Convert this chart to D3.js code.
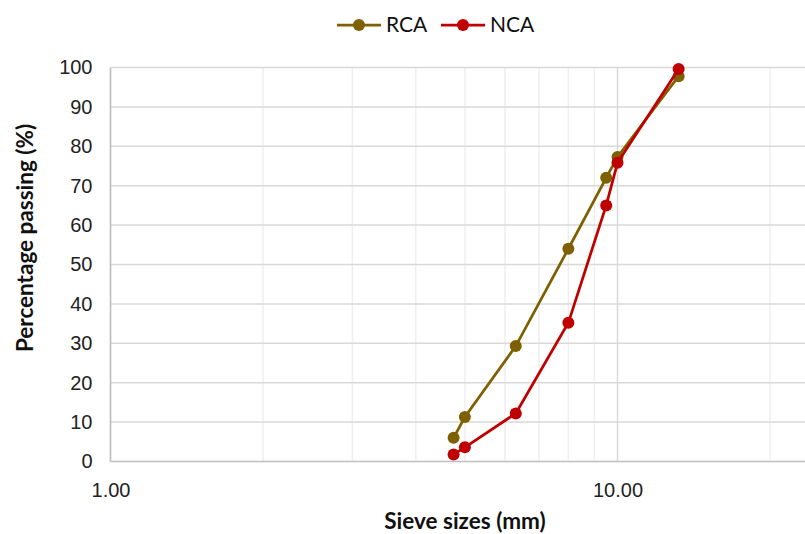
<!DOCTYPE html>
<html>
<head>
<meta charset="utf-8">
<script src="https://cdn.jsdelivr.net/npm/d3@7"></script>
<style>
  body { margin: 0; background: #fff; }
  svg { display: block; font-family: Lato, "Open Sans", sans-serif; }
  .tick text { font-size: 20px; fill: #222; }
</style>
</head>
<body>
<div id="wrapper"></div>
<script>
const sieveSizes = [4.75, 5, 6.3, 8, 9.5, 10, 13.2]
const rcaPassing = [6, 11.3, 29.3, 54, 72, 77.3, 97.8]
const ncaPassing = [1.8, 3.6, 12.2, 35.2, 65, 75.8, 99.6]
const seriesNames = ["RCA", "NCA"]
const seriesColors = ["#7F6000", "#C00000"]
const xTicks = [1, 10]
const yTicks = [0, 10, 20, 30, 40, 50, 60, 70, 80, 90, 100]

const series = [
  { name: seriesNames[0], color: seriesColors[0], values: rcaPassing },
  { name: seriesNames[1], color: seriesColors[1], values: ncaPassing }
]

let dimensions = {
  width: 805,
  height: 534,
  margin: { top: 67.5, left: 110.5, bottom: 72.5 }
}
const decade = 507

const svg = d3.select("#wrapper")
  .append("svg")
    .attr("width", dimensions.width)
    .attr("height", dimensions.height)

const xScale = d3.scaleLog()
  .domain([1, 100])
  .range([dimensions.margin.left, dimensions.margin.left + 2 * decade])

const yScale = d3.scaleLinear()
  .domain([0, 100])
  .range([dimensions.height - dimensions.margin.bottom, dimensions.margin.top])

const grid = svg.append("g")

// minor vertical gridlines (2..9, 20..90)
const minor = []
for (let d = 1; d < 100; d *= 10) {
  for (let k = 2; k <= 9; k++) minor.push(k * d)
}
grid.selectAll(".minor")
  .data(minor)
  .enter().append("line")
    .attr("x1", d => xScale(d)).attr("x2", d => xScale(d))
    .attr("y1", yScale(0)).attr("y2", yScale(100))
    .attr("stroke", "#efefef")
    .attr("stroke-width", 1.5)

grid.selectAll(".major")
  .data(xTicks)
  .enter().append("line")
    .attr("x1", d => xScale(d)).attr("x2", d => xScale(d))
    .attr("y1", yScale(0)).attr("y2", yScale(100))
    .attr("stroke", "#d9d9d9")
    .attr("stroke-width", 1.5)

grid.selectAll(".hgrid")
  .data(yTicks.slice(1))
  .enter().append("line")
    .attr("x1", xScale(1)).attr("x2", dimensions.width)
    .attr("y1", d => yScale(d)).attr("y2", d => yScale(d))
    .attr("stroke", "#d9d9d9")
    .attr("stroke-width", 1.5)

// axes
const xAxis = d3.axisBottom(xScale)
  .tickValues(xTicks)
  .tickFormat(d3.format(".2f"))
  .tickSize(0)
  .tickPadding(21)

svg.append("g")
  .attr("transform", `translate(0, ${yScale(0)})`)
  .call(xAxis)
  .call(g => g.select(".domain").remove())

svg.append("line")
  .attr("x1", xScale(1)).attr("x2", dimensions.width)
  .attr("y1", yScale(0)).attr("y2", yScale(0))
  .attr("stroke", "#bfbfbf").attr("stroke-width", 1.5)

const yAxis = d3.axisLeft(yScale)
  .tickValues(yTicks)
  .tickSize(0)
  .tickPadding(18)

svg.append("g")
  .attr("transform", `translate(${xScale(1)}, 0)`)
  .call(yAxis)
  .call(g => g.select(".domain").remove())

svg.append("line")
  .attr("x1", xScale(1)).attr("x2", xScale(1))
  .attr("y1", yScale(0)).attr("y2", yScale(100))
  .attr("stroke", "#bfbfbf").attr("stroke-width", 1.5)

// axis titles
svg.append("text")
  .attr("x", 465)
  .attr("y", 529)
  .attr("text-anchor", "middle")
  .attr("font-size", 22.5)
  .attr("font-weight", "bold")
  .attr("fill", "#111")
  .text("Sieve sizes (mm)")

svg.append("text")
  .attr("transform", `translate(33, 238) rotate(-90)`)
  .attr("text-anchor", "middle")
  .attr("font-size", 22.5)
  .attr("font-weight", "bold")
  .attr("fill", "#111")
  .text("Percentage passing (%)")

// lines and markers
const line = d3.line()
  .x((d, i) => xScale(sieveSizes[i]))
  .y(d => yScale(d))

const plot = svg.append("g")

series.forEach(s => {
  plot.append("path")
    .datum(s.values)
    .attr("d", line)
    .attr("fill", "none")
    .attr("stroke", s.color)
    .attr("stroke-width", 2.75)

  plot.selectAll(null)
    .data(s.values)
    .enter().append("circle")
      .attr("cx", (d, i) => xScale(sieveSizes[i]))
      .attr("cy", d => yScale(d))
      .attr("r", 6)
      .attr("fill", s.color)
})

// legend
const legend = svg.append("g")
  .attr("transform", "translate(337, 25)")

const legendItems = legend.selectAll("g")
  .data(series)
  .enter().append("g")
    .attr("transform", (d, i) => `translate(${i * 104}, 0)`)

legendItems.append("line")
  .attr("x1", 0).attr("x2", 44)
  .attr("stroke", d => d.color)
  .attr("stroke-width", 2.75)

legendItems.append("circle")
  .attr("cx", 22)
  .attr("r", 6)
  .attr("fill", d => d.color)

legendItems.append("text")
  .attr("x", 49)
  .attr("dy", "0.35em")
  .attr("font-size", 21)
  .attr("fill", "#111")
  .text(d => d.name)
</script>
</body>
</html>
